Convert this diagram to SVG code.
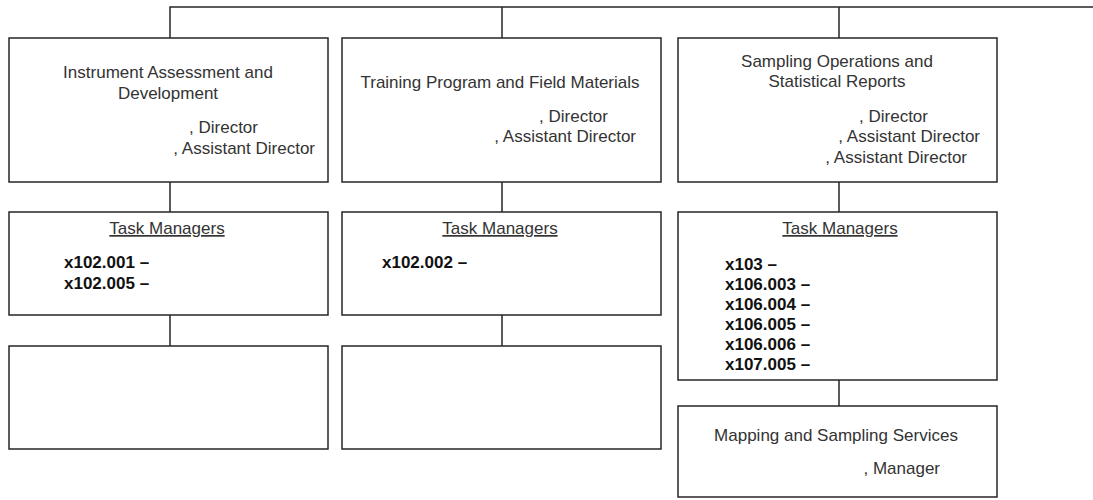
<svg xmlns="http://www.w3.org/2000/svg" width="1093" height="500" viewBox="0 0 1093 500">
<style>
.box{fill:#fff;stroke:#262626;stroke-width:1.5}
.ln{fill:none;stroke:#262626;stroke-width:1.5}
.t{font-family:"Liberation Sans",Arial,sans-serif;font-size:17px;fill:#333}
.c{text-anchor:middle}
.e{text-anchor:end}
.u{text-decoration:underline}
.b{font-family:"Liberation Sans",Arial,sans-serif;font-size:17px;font-weight:bold;fill:#111}
</style>
<rect width="1093" height="500" fill="#fff"/>
<g id="connectors">
<path class="ln" d="M170 38V7H1093M502 7V38M839 7V38"/>
<path class="ln" d="M170 182V212M502 182V212M839 182V212"/>
<path class="ln" d="M170 315V346M502 315V346M839 380V406"/>
</g>
<g id="n1">
<rect class="box" x="9" y="38" width="319" height="144"/>
<text class="t c" x="168" y="78">Instrument  Assessment and</text>
<text class="t c" x="168" y="99">Development</text>
<text class="t e" x="258" y="133">, Director</text>
<text class="t e" x="315" y="154">, Assistant Director</text>
</g>
<g id="n2">
<rect class="box" x="342" y="38" width="319" height="144"/>
<text class="t c" x="500" y="88">Training Program and Field Materials</text>
<text class="t e" x="608" y="122">, Director</text>
<text class="t e" x="636" y="142">, Assistant Director</text>
</g>
<g id="n3">
<rect class="box" x="678" y="38" width="319" height="144"/>
<text class="t c" x="837" y="67">Sampling  Operations and</text>
<text class="t c" x="837" y="87">Statistical Reports</text>
<text class="t e" x="928" y="122">, Director</text>
<text class="t e" x="980" y="142">, Assistant Director</text>
<text class="t e" x="967" y="163">, Assistant Director</text>
</g>
<g id="n4">
<rect class="box" x="9" y="212" width="319" height="103"/>
<text class="t c u" x="167" y="234">Task Managers</text>
<text class="b" x="64" y="268">x102.001 –</text>
<text class="b" x="64" y="289">x102.005 –</text>
</g>
<g id="n5">
<rect class="box" x="342" y="212" width="319" height="103"/>
<text class="t c u" x="500" y="234">Task Managers</text>
<text class="b" x="382" y="268">x102.002 –</text>
</g>
<g id="n6">
<rect class="box" x="678" y="212" width="319" height="168"/>
<text class="t c u" x="840" y="234">Task Managers</text>
<text class="b" x="725" y="270">x103 –</text>
<text class="b" x="725" y="290">x106.003 –</text>
<text class="b" x="725" y="310">x106.004 –</text>
<text class="b" x="725" y="330">x106.005 –</text>
<text class="b" x="725" y="350">x106.006 –</text>
<text class="b" x="725" y="370">x107.005 –</text>
</g>
<g id="n7">
<rect class="box" x="9" y="346" width="319" height="103"/>
</g>
<g id="n8">
<rect class="box" x="342" y="346" width="319" height="103"/>
</g>
<g id="n9">
<rect class="box" x="678" y="406" width="319" height="91"/>
<text class="t c" x="836" y="441">Mapping and Sampling  Services</text>
<text class="t e" x="940" y="474">, Manager</text>
</g>
</svg>
